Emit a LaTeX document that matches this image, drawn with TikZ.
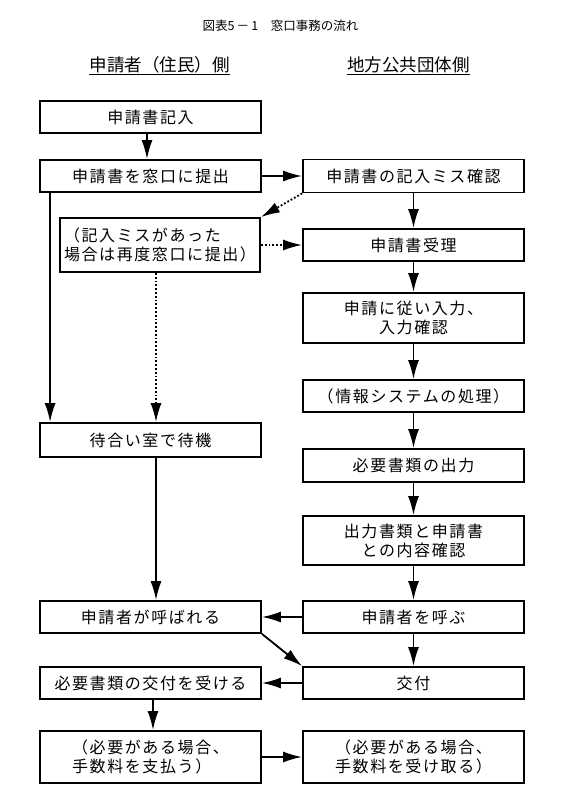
\documentclass[tikz,border=0pt]{standalone}
\usepackage{fontspec}
\newfontfamily\jpfont[LetterSpace=10]{Noto Sans CJK JP}
\newfontfamily\headfont{Noto Sans CJK JP}
\usetikzlibrary{arrows.meta}
\usetikzlibrary{positioning}
\tikzstyle{base}=[x=1pt, y=-1pt, inner sep=0pt]
\tikzstyle{box}=[draw, line width=1.8pt, minimum width=221pt, minimum height=32pt, align=center, font=\jpfont\fontsize{16}{19}\selectfont]
\tikzstyle{head}=[font=\headfont\fontsize{17.5}{20}\selectfont]
\tikzstyle{flow}=[-{Latex[length=19pt,width=11pt]}, line width=1.8pt]
\tikzstyle{dotflow}=[flow, dotted]

\begin{document}
\begin{tikzpicture}[base]
    \path [use as bounding box] (0,0) rectangle (568,795);
    % title and column heads
    \node [font=\headfont\fontsize{12.5}{14}\selectfont] (title) at (280.5,26) {図表5\,－\,1　窓口事務の流れ};
    \node [head] (hdL) at (159.5,65) {申請者（住民）側};
    \node [head] (hdR) at (408.5,65) {地方公共団体側};
    \draw [line width=1.1pt] ([yshift=-3pt]hdL.base west) -- ([yshift=-3pt]hdL.base east);
    \draw [line width=1.1pt] ([yshift=-3pt]hdR.base west) -- ([yshift=-3pt]hdR.base east);
    % resident side
    \node [box] (fill) at (150.5,117) {申請書記入};
    \node [box] (submit) at (150.5,176) {申請書を窓口に提出};
    \node [box, minimum width=200pt, minimum height=54pt, align=left] (miss) at (160,245) {（記入ミスがあった\\場合は再度窓口に提出）};
    \node [box, minimum height=34pt] (wait) at (150.5,440) {待合い室で待機};
    \node [box] (called) at (150.5,617) {申請者が呼ばれる};
    \node [box] (receive) at (150.5,683) {必要書類の交付を受ける};
    \node [box, minimum height=52pt, align=left] (pay) at (150.5,757) {（必要がある場合、\\手数料を支払う）};
    % local government side
    \node [box, minimum height=33pt] (check) at (413.5,176) {申請書の記入ミス確認};
    \node [box] (accept) at (413.5,245) {申請書受理};
    \node [box, minimum height=50pt] (input) at (413.5,318) {申請に従い入力、\\入力確認};
    \node [box] (info) at (413.5,396) {（情報システムの処理）};
    \node [box, minimum height=33pt] (output) at (413.5,465.5) {必要書類の出力};
    \node [box, minimum height=49pt] (compare) at (413.5,540.5) {出力書類と申請書\\との内容確認};
    \node [box] (call) at (413.5,617) {申請者を呼ぶ};
    \node [box] (koufu) at (413.5,683) {交付};
    \node [box, minimum height=52pt, align=left] (take) at (413.5,757) {（必要がある場合、\\手数料を受け取る）};
    % arrows
    \foreach \a/\b in {check/accept, accept/input, input/info, info/output, output/compare, compare/call, call/koufu}
        \draw [flow] (\a.south) -- (\b.north);
    \draw [flow] ([xshift=-3.5pt]fill.south) -- ([xshift=-3.5pt]submit.north);
    \draw [flow] (submit.east) -- (check.west);
    \draw [dotflow] (check.south west) -- (miss.north east);
    \draw [dotflow] (miss.east) -- (accept.west);
    \draw [flow] ([xshift=11pt]submit.south west) -- ([xshift=11pt]wait.north west);
    \draw [dotflow] ([xshift=-4pt]miss.south) -- ([xshift=-4pt]miss.south |- wait.north);
    \draw [flow] ([xshift=5.5pt]wait.south) -- ([xshift=5.5pt]called.north);
    \draw [flow] (call.west) -- (called.east);
    \draw [flow] (called.south east) -- (koufu.north west);
    \draw [flow] (koufu.west) -- (receive.east);
    \draw [flow] ([xshift=2.5pt]receive.south) -- ([xshift=2.5pt]pay.north);
    \draw [flow] (pay.east) -- (take.west);
\end{tikzpicture}
\end{document}
